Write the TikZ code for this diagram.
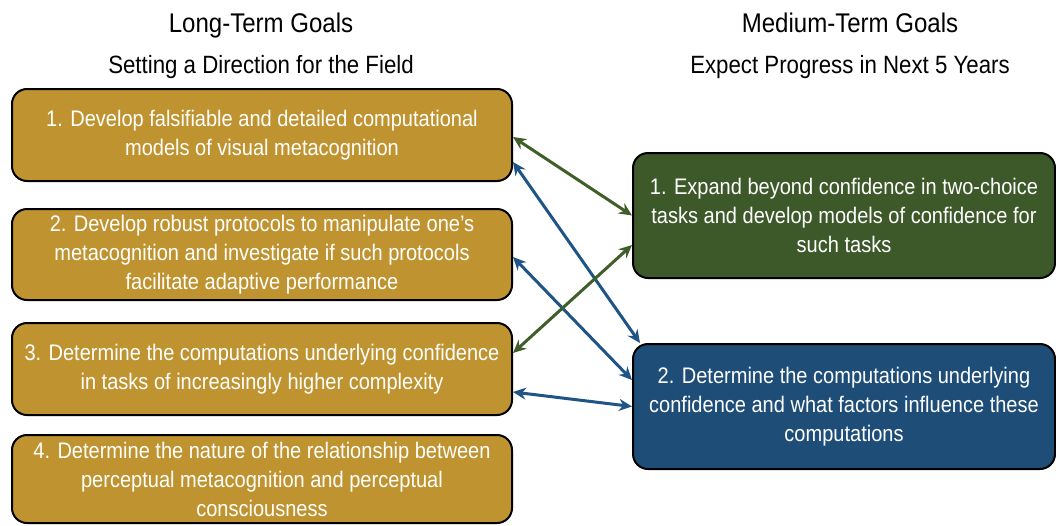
\documentclass[tikz,border=0pt]{standalone}
\usepackage{fontspec}
\setmainfont[FakeStretch=0.89]{Liberation Sans}
\usetikzlibrary{arrows.meta}
\definecolor{gold}{RGB}{191,148,48}
\definecolor{dgreen}{RGB}{61,89,42}
\definecolor{dblue}{RGB}{30,77,120}
\definecolor{agreen}{RGB}{64,94,42}
\definecolor{ablue}{RGB}{31,84,134}
\tikzset{
  goalbox/.style={draw=black, line width=2pt, rounded corners=15pt, text=white,
    align=center, font=\fontsize{22.5}{29}\selectfont, inner sep=0pt},
  longbox/.style={goalbox, fill=gold, minimum width=500pt},
  medbox/.style={goalbox, minimum width=422pt, minimum height=125pt},
  heading/.style={font=\fontsize{27}{30}\selectfont, text=black, anchor=base},
  subheading/.style={font=\fontsize{25}{28}\selectfont, text=black, anchor=base},
  link/.style={line width=3pt, {Stealth[length=13pt,width=12pt]}-{Stealth[length=13pt,width=12pt]}},
}
\begin{document}
\begin{tikzpicture}[x=1pt,y=-1pt]
\useasboundingbox (0,0) rectangle (1056,525);
\node[heading] (lt) at (261,32) {Long-Term Goals};
\node[subheading] (lts) at (261,73) {Setting a Direction for the Field};
\node[heading] (mt) at (850,32) {Medium-Term Goals};
\node[subheading] (mts) at (850,73) {Expect Progress in Next 5 Years};

\node[longbox, minimum height=92pt] (b1) at (262,135) {1. Develop falsifiable and detailed computational\\models of visual metacognition};
\node[longbox, minimum height=91pt] (b2) at (262,254.5) {2. Develop robust protocols to manipulate one’s\\metacognition and investigate if such protocols\\facilitate adaptive performance};
\node[longbox, minimum height=92pt] (b3) at (262,369) {3. Determine the computations underlying confidence\\in tasks of increasingly higher complexity};
\node[longbox, minimum height=88pt] (b4) at (262,479) {4. Determine the nature of the relationship between\\perceptual metacognition and perceptual\\consciousness};

\node[medbox, fill=dgreen] (g1) at (844,215.5) {1. Expand beyond confidence in two-choice\\tasks and develop models of confidence for\\such tasks};
\node[medbox, fill=dblue] (g2) at (844,406.5) {2. Determine the computations underlying\\confidence and what factors influence these\\computations};

\draw[link, agreen] ([yshift=-2pt]b1.east) -- (g1.west);
\draw[link, ablue] ([yshift=-27pt]b1.east) -- ([xshift=8pt]g2.north west);
\draw[link, ablue] ([yshift=-2.5pt]b2.east) -- ([yshift=26.5pt]g2.west);
\draw[link, agreen] ([yshift=16pt]b3.east) -- ([yshift=-29.5pt]g1.west);
\draw[link, ablue] ([yshift=-23pt]b3.east) -- (g2.west);
\end{tikzpicture}
\end{document}
